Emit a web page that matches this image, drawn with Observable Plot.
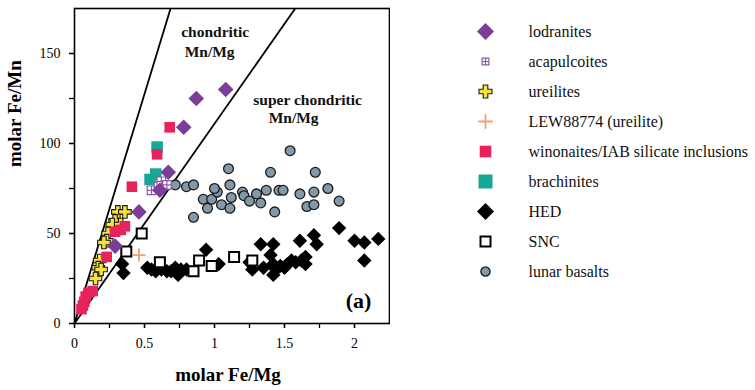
<!DOCTYPE html>
<html>
<head>
<meta charset="utf-8">
<script src="https://cdn.jsdelivr.net/npm/d3@7"></script>
<script src="https://cdn.jsdelivr.net/npm/@observablehq/plot@0.6"></script>
<style>
  html, body { margin: 0; padding: 0; background: #fff; }
  #wrap { display: flex; width: 755px; height: 390px; }
  #wrap svg text { font-family: 'Liberation Serif', 'Times New Roman', serif; }
</style>
</head>
<body>
<div id="wrap"></div>
<script>
// ---------- data (molar Fe/Mg, molar Fe/Mn) ----------
const lodranites = [[1.08,130],[0.87,125],[0.78,109],[0.67,84],[0.61,74],[0.46,62],[0.29,43]];
const acapulcoites = [[0.55,74],[0.60,76],[0.62,79],[0.66,77]];
const ureilites = [[0.31,62],[0.36,62],[0.29,57],[0.27,55],[0.33,55],[0.24,50],[0.23,46],[0.21,45],[0.18,35],[0.17,31],[0.19,30],[0.15,25]];
const lew88774 = [[0.46,38]];
const winonaites = [[0.68,109],[0.59,94],[0.41,76],[0.36,54],[0.33,52],[0.29,51],[0.23,37],[0.13,18],[0.10,17],[0.08,15],[0.07,12],[0.06,10],[0.05,8]];
const brachinites = [[0.59,98],[0.54,80],[0.58,83]];
const hed = [[0.34,33],[0.35,28],[0.52,31],[0.55,30],[0.58,29],[0.62,30],[0.66,29],[0.69,29],[0.72,31],[0.74,27],[0.76,30],[0.80,30],
  [0.94,41],[1.03,33],[1.25,34],[1.27,30],[1.33,44],[1.35,31],[1.40,38],[1.42,44],[1.42,33],[1.44,30],[1.42,27],[1.47,32],[1.50,31],
  [1.52,33],[1.55,35],[1.58,34],[1.61,46],[1.62,35],[1.65,33],[1.65,37],[1.71,49],[1.73,44],[1.89,53],[2.00,46],[2.07,45],[2.07,35],[2.17,47]];
const snc = [[0.37,40],[0.48,50],[0.61,34],[0.85,29],[0.89,35],[0.98,32],[1.14,37],[1.27,35]];
const lunar = [[0.72,77],[0.80,76],[0.85,77],[0.85,59],[0.92,69],[0.95,64],[0.98,69],[1.02,73],[1.00,75],[1.05,66],[1.10,86],[1.11,77],
  [1.11,64],[1.12,70],[1.20,73],[1.21,71],[1.25,68],[1.30,72],[1.33,67],[1.37,74],[1.40,84],[1.43,62],[1.46,74],[1.49,74],[1.54,96],
  [1.61,72],[1.66,65],[1.72,84],[1.71,73],[1.71,66],[1.81,75],[1.89,68]];

const boundarySlopes = [255, 111];   // Fe/Mn per Fe/Mg for the two boundary lines
const xMajorTicks = [0, 0.5, 1, 1.5, 2];
const xMinorTicks = [0, 0.25, 0.5, 0.75, 1, 1.25, 1.5, 1.75, 2];
const yMajorTicks = [0, 50, 100, 150];
const yMinorTicks = [0, 25, 50, 75, 100, 125, 150];
const annotations = [
  {text: "chondritic", x: 1.005, y: 162},
  {text: "Mn/Mg", x: 0.965, y: 151},
  {text: "super chondritic", x: 1.665, y: 124},
  {text: "Mn/Mg", x: 1.565, y: 114}
];

// ---------- symbols (half-extent = r) ----------
const half = size => Math.sqrt(size / Math.PI);
const symDiamond = {draw(c, s){const h = half(s); c.moveTo(0,-h); c.lineTo(h,0); c.lineTo(0,h); c.lineTo(-h,0); c.closePath();}};
const symSquare = {draw(c, s){const h = half(s); c.rect(-h,-h,2*h,2*h);}};
const symGrid = {draw(c, s){const h = half(s); c.rect(-h,-h,2*h,2*h); c.moveTo(0,-h); c.lineTo(0,h); c.moveTo(-h,0); c.lineTo(h,0);}};
const symCross = {draw(c, s){const h = half(s), t = h/2.8;
  c.moveTo(-t,-h); c.lineTo(t,-h); c.lineTo(t,-t); c.lineTo(h,-t); c.lineTo(h,t); c.lineTo(t,t);
  c.lineTo(t,h); c.lineTo(-t,h); c.lineTo(-t,t); c.lineTo(-h,t); c.lineTo(-h,-t); c.lineTo(-t,-t); c.closePath();}};
const symPlus = {draw(c, s){const h = half(s); c.moveTo(-h,0); c.lineTo(h,0); c.moveTo(0,-h); c.lineTo(0,h);}};
const symCircle = {draw(c, s){const h = half(s); c.moveTo(h,0); c.arc(0,0,h,0,2*Math.PI);}};

// series styles, in drawing order (bottom to top)
const series = [
  {name: "lunar basalts", data: lunar, symbol: symCircle, fill: "#8299aa", stroke: "#1a1a1a", sw: 1.3, r: 4.9, lr: 4.6, order: 8},
  {name: "HED", data: hed, symbol: symDiamond, fill: "#000", stroke: "none", sw: 0, r: 7.2, lr: 8.5, order: 6},
  {name: "SNC", data: snc, symbol: symSquare, fill: "#fff", stroke: "#000", sw: 2, r: 5, lr: 5, order: 7},
  {name: "ureilites", data: ureilites, symbol: symCross, fill: "#f8e23a", stroke: "#1a1a1a", sw: 1.1, r: 6.3, lr: 6.5, order: 2},
  {name: "brachinites", data: brachinites, symbol: symSquare, fill: "#16a797", stroke: "none", sw: 0, r: 5.8, lr: 7, order: 5},
  {name: "winonaites/IAB silicate inclusions", data: winonaites, symbol: symSquare, fill: "#e8225b", stroke: "none", sw: 0, r: 5.3, lr: 5.8, order: 4},
  {name: "acapulcoites", data: acapulcoites, symbol: symGrid, fill: "#fff", stroke: "#8a5aa6", sw: 1.2, r: 4.3, lr: 3.4, order: 1},
  {name: "lodranites", data: lodranites, symbol: symDiamond, fill: "#7c3d98", stroke: "none", sw: 0, r: 7.8, lr: 8.5, order: 0},
  {name: "LEW88774 (ureilite)", data: lew88774, symbol: symPlus, fill: "none", stroke: "#f2a064", sw: 1.8, r: 6.5, lr: 7.2, order: 3}
];

const font = "'Liberation Serif', 'Times New Roman', serif";

const main = Plot.plot({
  width: 390, height: 390,
  marginLeft: 74, marginRight: 1, marginTop: 8, marginBottom: 67,
  x: {domain: [0, 2.25]},
  y: {domain: [0, 175]},
  style: {fontFamily: font, fontSize: "14px", color: "#000", background: "#fff", overflow: "visible"},
  marks: [
    Plot.axisX(xMinorTicks, {tickSize: 5, strokeWidth: 1.3, tickFormat: () => "", label: null}),
    Plot.axisX(xMajorTicks, {tickSize: 5, strokeWidth: 1.3, tickPadding: 10, tickFormat: d => String(d), label: null, fontSize: 14}),
    Plot.axisY(yMinorTicks, {tickSize: 5, strokeWidth: 1.3, tickFormat: () => "", label: null}),
    Plot.axisY(yMajorTicks, {tickSize: 5, strokeWidth: 1.3, tickPadding: 9, tickFormat: d => String(d), label: null, fontSize: 14}),
    Plot.link(boundarySlopes, {x1: () => 0, y1: () => 0, x2: s => 175 / s, y2: () => 175, stroke: "#000", strokeWidth: 1.8}),
    ...series.map(s => Plot.dot(s.data, {x: d => d[0], y: d => d[1], symbol: s.symbol, r: s.r, fill: s.fill, stroke: s.stroke, strokeWidth: s.sw})),
    Plot.text(annotations, {x: "x", y: "y", text: "text", fontWeight: "bold", fontSize: 15.5, fill: "#111"}),
    Plot.text(["(a)"], {frameAnchor: "bottom-right", dx: -31, dy: -16, fontWeight: "bold", fontSize: 22, textAnchor: "middle"}),
    Plot.text(["molar Fe/Mg"], {frameAnchor: "bottom", dx: -4, dy: 57, fontWeight: "bold", fontSize: 19}),
    Plot.text(["molar Fe/Mn"], {frameAnchor: "left", dx: -60, dy: 1, rotate: -90, fontWeight: "bold", fontSize: 19}),
    Plot.frame({stroke: "#000", strokeWidth: 1.6})
  ]
});

const legendOrder = series.slice().sort((a, b) => a.order - b.order);
const names = legendOrder.map(s => s.name);
const legend = Plot.plot({
  width: 365, height: 390,
  margin: 0,
  x: {domain: [0, 1], range: [95, 138], axis: null},
  y: {type: "point", domain: names, range: [15, 287], axis: null},
  style: {fontFamily: font, background: "#fff"},
  marks: [
    ...legendOrder.map(s => Plot.dot([s.name], {x: () => 0, y: d => d, symbol: s.symbol, r: s.lr, fill: s.fill, stroke: s.stroke, strokeWidth: s.sw})),
    Plot.text(names, {x: () => 1, y: d => d, text: d => d, textAnchor: "start", fontSize: 16, fill: "#111"})
  ]
});

const wrap = document.getElementById("wrap");
wrap.appendChild(main);
wrap.appendChild(legend);
</script>
</body>
</html>
